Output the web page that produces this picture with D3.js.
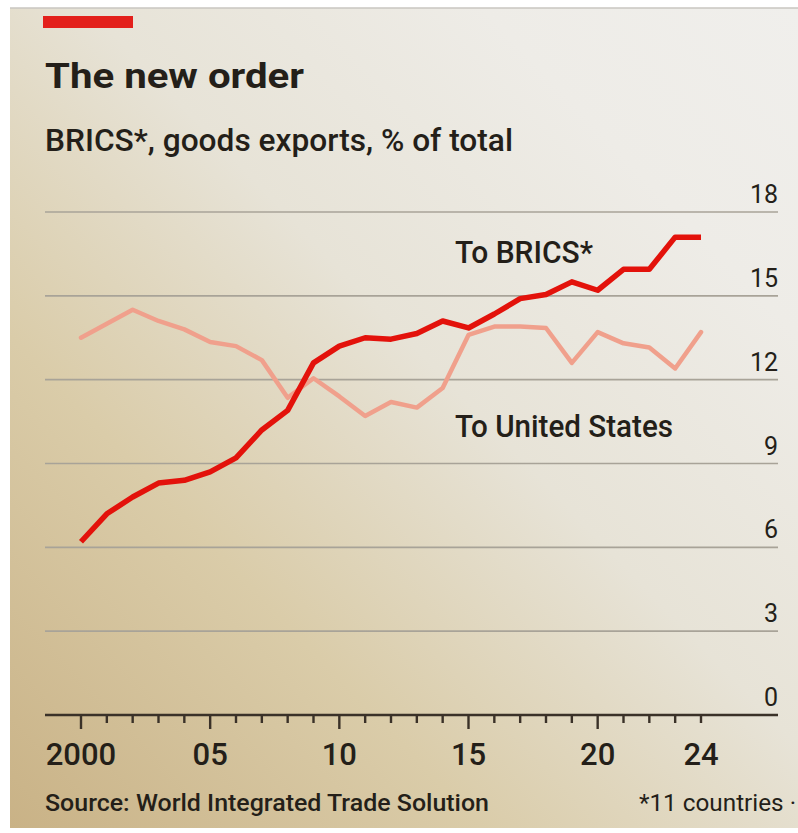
<!DOCTYPE html>
<html>
<head>
<meta charset="utf-8">
<script src="https://cdn.jsdelivr.net/npm/d3@7"></script>
<style>
  html, body { margin: 0; padding: 0; background: #ffffff; }
  svg { display: block; }
  text { font-family: Roboto, "Liberation Sans", Arial, "DejaVu Sans", sans-serif; fill: #241f19; }
</style>
</head>
<body>
<div id="chart"></div>
<script>
// ---- data ----
const years = d3.range(2000, 2025);
const toBRICS = [6.2, 7.2, 7.8, 8.3, 8.4, 8.7, 9.2, 10.2, 10.9, 12.6, 13.2, 13.5, 13.45, 13.65, 14.1, 13.85, 14.35, 14.9, 15.05, 15.5, 15.2, 15.95, 15.95, 17.1, 17.1];
const toUS = [13.5, 14.0, 14.5, 14.1, 13.8, 13.35, 13.2, 12.7, 11.35, 12.05, 11.4, 10.7, 11.2, 11.0, 11.7, 13.6, 13.9, 13.9, 13.85, 12.6, 13.7, 13.3, 13.15, 12.4, 13.7];
const yTicks = [0, 3, 6, 9, 12, 15, 18];
const xLabelYears = [2000, 2005, 2010, 2015, 2020, 2024];
const xLabels = ["2000", "05", "10", "15", "20", "24"];

const W = 798, H = 833;
const svg = d3.select("#chart").append("svg").attr("width", W).attr("height", H);

// paper background (photo)
const defs = svg.append("defs");
const g1 = defs.append("linearGradient").attr("id", "paper")
  .attr("x1", "0").attr("y1", "1").attr("x2", "1").attr("y2", "0");
[[0, "#c9b286"], [0.3, "#dacca9"], [0.55, "#e7e3d7"], [0.8, "#eeece7"], [1, "#f0efec"]]
  .forEach(([o, c]) => g1.append("stop").attr("offset", o).attr("stop-color", c));
svg.append("rect").attr("x", 10).attr("y", 8).attr("width", W - 10).attr("height", 820).attr("fill", "url(#paper)");
svg.append("line").attr("x1", 10).attr("x2", W).attr("y1", 8).attr("y2", 8).attr("stroke", "#c9c6c0").attr("stroke-width", 1.5);

// red tag
svg.append("rect").attr("x", 43).attr("y", 16).attr("width", 90).attr("height", 12).attr("fill", "#e3201b");

// titles
svg.append("text").attr("x", 45).attr("y", 88).attr("font-size", 35).attr("font-weight", 700)
  .attr("textLength", 259).attr("lengthAdjust", "spacingAndGlyphs").text("The new order");
svg.append("text").attr("x", 45).attr("y", 151).attr("font-size", 31).attr("font-weight", 500)
  .attr("textLength", 468).attr("lengthAdjust", "spacingAndGlyphs").text("BRICS*, goods exports, % of total");

// scales
const x = d3.scaleLinear().domain([2000, 2024]).range([81, 701]);
const y = d3.scaleLinear().domain([0, 18]).range([715, 212]);
const gridX0 = 45, gridX1 = 778;

// gridlines
svg.append("g").selectAll("line").data(yTicks.filter(d => d > 0)).join("line")
  .attr("x1", gridX0).attr("x2", gridX1)
  .attr("y1", d => y(d)).attr("y2", d => y(d))
  .attr("stroke", "#a8a398").attr("stroke-width", 1.6);

// y labels
svg.append("g").selectAll("text").data(yTicks).join("text")
  .attr("x", gridX1).attr("y", d => y(d) - 9)
  .attr("text-anchor", "end").attr("font-size", 25).text(d => d);

// x axis baseline and ticks
svg.append("line").attr("x1", gridX0).attr("x2", gridX1).attr("y1", y(0)).attr("y2", y(0))
  .attr("stroke", "#3a3128").attr("stroke-width", 2.6);
svg.append("g").selectAll("line").data(years).join("line")
  .attr("x1", d => x(d)).attr("x2", d => x(d))
  .attr("y1", y(0)).attr("y2", d => (d % 5 === 0 ? y(0) + 14 : y(0) + 8))
  .attr("stroke", "#3a3128").attr("stroke-width", 2.4);
svg.append("g").selectAll("text").data(xLabelYears).join("text")
  .attr("x", d => x(d)).attr("y", 765).attr("text-anchor", "middle").attr("font-size", 31).attr("font-weight", 500)
  .text((d, i) => xLabels[i]);

// lines
const line = d3.line().x((d, i) => x(years[i])).y(d => y(d)).curve(d3.curveLinear);
svg.append("path").datum(toUS).attr("d", line).attr("fill", "none")
  .attr("stroke", "#f0a08c").attr("stroke-width", 4.5).attr("stroke-linejoin", "round").attr("stroke-linecap", "round");
svg.append("path").datum(toBRICS).attr("d", line).attr("fill", "none")
  .attr("stroke", "#e3120b").attr("stroke-width", 5.5).attr("stroke-linejoin", "round").attr("stroke-linecap", "butt");

// series labels
svg.append("text").attr("x", 455).attr("y", 263).attr("font-size", 31).attr("font-weight", 500)
  .attr("textLength", 138).attr("lengthAdjust", "spacingAndGlyphs").text("To BRICS*");
svg.append("text").attr("x", 455).attr("y", 437).attr("font-size", 31).attr("font-weight", 500)
  .attr("textLength", 218).attr("lengthAdjust", "spacingAndGlyphs").text("To United States");

// footer
svg.append("text").attr("x", 45).attr("y", 811).attr("font-size", 23).attr("font-weight", 500)
  .attr("textLength", 444).attr("lengthAdjust", "spacingAndGlyphs").text("Source: World Integrated Trade Solution");
svg.append("text").attr("x", 639).attr("y", 811).attr("font-size", 23)
  .attr("textLength", 157).attr("lengthAdjust", "spacingAndGlyphs").text("*11 countries ·");
</script>
</body>
</html>
